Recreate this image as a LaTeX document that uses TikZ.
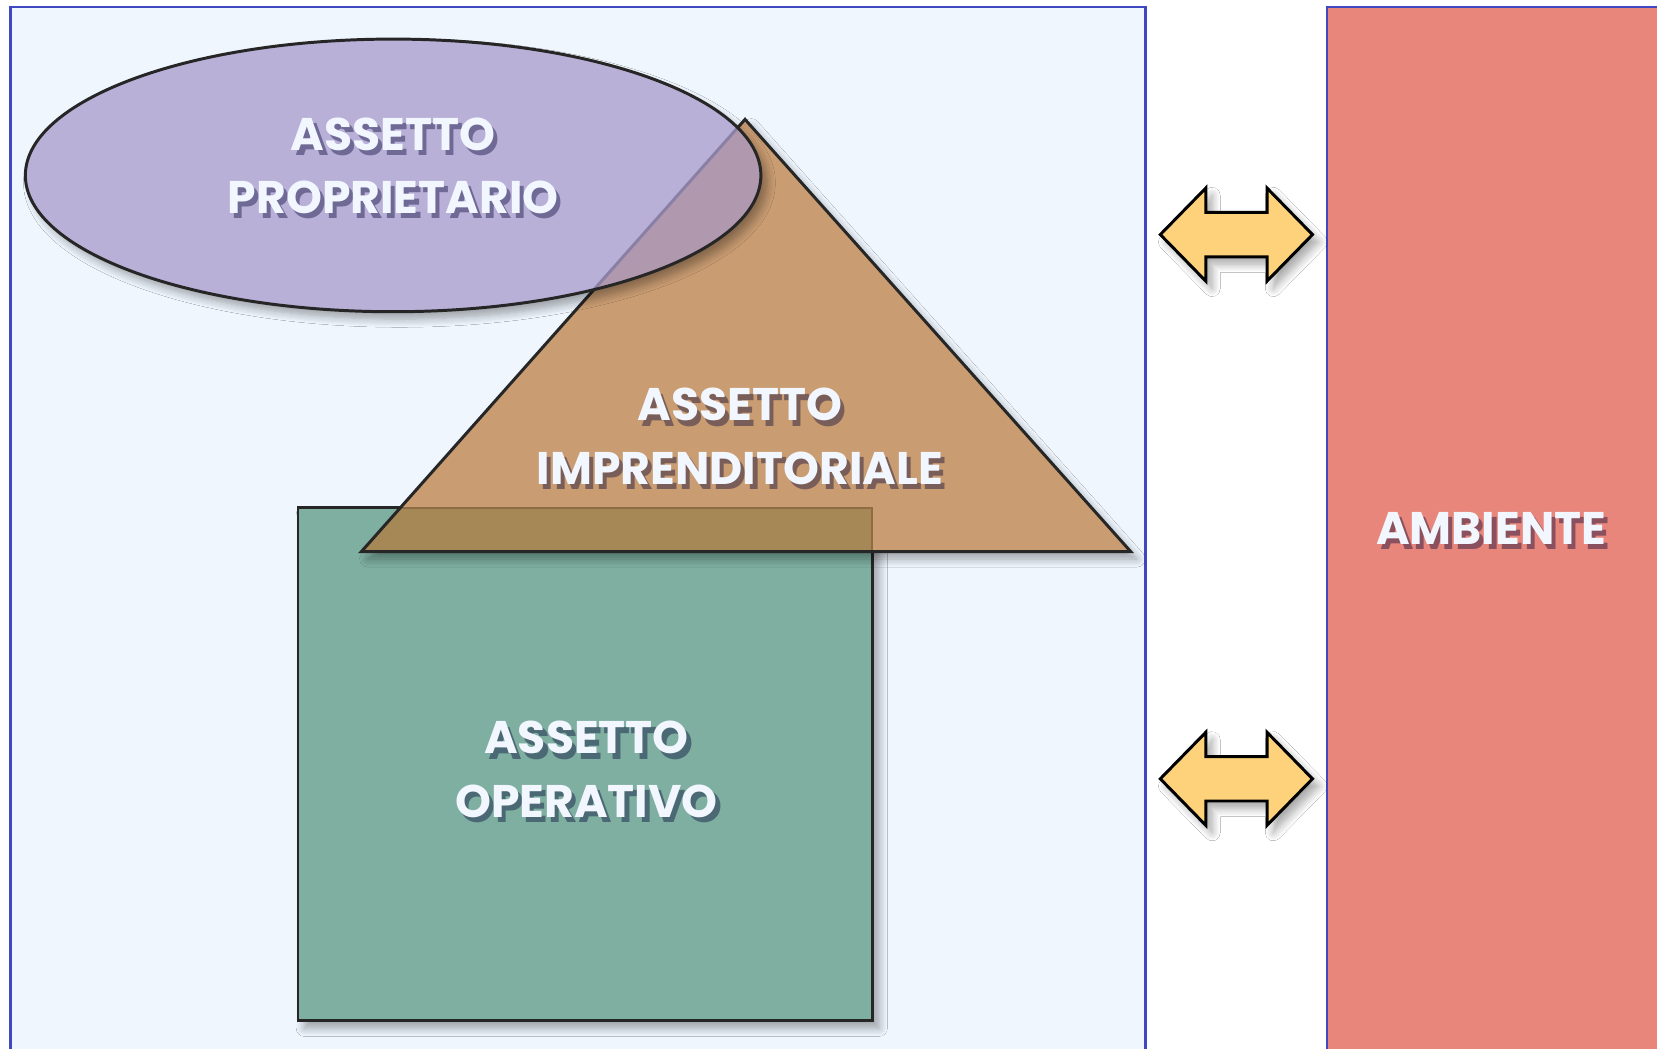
\documentclass[tikz,border=0pt]{standalone}
\usepackage{fontspec}
\setmainfont{Poppins}
\usetikzlibrary{shadows.blur}
\definecolor{bgblue}{HTML}{EFF6FE}
\definecolor{frameblue}{HTML}{3F48C0}
\definecolor{salmon}{HTML}{E8867C}
\definecolor{lav}{HTML}{B9B0D8}
\definecolor{tan}{HTML}{C99C72}
\definecolor{teal}{HTML}{7EAFA0}
\definecolor{tanteal}{HTML}{A68856}
\definecolor{lavtan}{HTML}{B098AE}
\definecolor{faintbrown}{HTML}{8E6C44}
\definecolor{faintlav}{HTML}{8A80A6}
\definecolor{arrowyellow}{HTML}{FDD27A}
\definecolor{txtwhite}{HTML}{F2F6FE}
\tikzset{
  framebox/.style={draw=frameblue, line width=0.6pt},
  shapebox/.style={draw=black!85, line width=0.8pt},
  sh/.style={blur shadow={shadow xshift=0.06cm, shadow yshift=-0.07cm, shadow blur steps=8, shadow opacity=35}},
  lbltxt/.style={text=txtwhite, align=center, font=\bfseries\fontsize{12.3}{17}\selectfont, inner sep=0pt},
  lblsh/.style={text=black!80!blue, text opacity=0.4, align=center, font=\bfseries\fontsize{12.3}{17}\selectfont, inner sep=0pt},
  dblarrow/.style={draw=black, line width=0.8pt, fill=arrowyellow, line join=miter, sh}
}
\newcommand{\shlabel}[3]{%
  \node[lblsh, xshift=0.04cm, yshift=-0.05cm] (#1-sh) at (#2) {#3};
  \node[lbltxt] (#1) at (#2) {#3};}
\begin{document}
\begin{tikzpicture}[x=0.01cm,y=-0.01cm]
\useasboundingbox (0,0) rectangle (1568,992);
% containers
\fill[white] (0,0) rectangle (1568,992);
\draw[framebox, fill=bgblue] (10,7) rectangle (1084,1010);
\draw[framebox, fill=salmon] (1256,7) rectangle (1590,1010);
% operativo rectangle
\draw[shapebox, fill=teal, sh] (282,480) rectangle (826,966);
% imprenditoriale triangle
\path[fill=tan, sh] (705,113) -- (1070,522) -- (342,522) -- cycle;
\begin{scope}
  \clip (282,480) rectangle (826,966);
  \fill[tanteal] (705,113) -- (1070,522) -- (342,522) -- cycle;
  \clip (705,113) -- (1070,522) -- (342,522) -- cycle;
  \draw[faintbrown, line width=0.8pt] (282,480) rectangle (826,966);
\end{scope}
\draw[shapebox] (705,113) -- (1070,522) -- (342,522) -- cycle;
% proprietario ellipse
\path[fill=lav, sh] (372,166) ellipse [x radius=348, y radius=129];
\begin{scope}
  \clip (372,166) ellipse [x radius=348, y radius=129];
  \fill[lavtan] (705,113) -- (1070,522) -- (342,522) -- cycle;
  \draw[faintlav, line width=0.8pt] (705,113) -- (1070,522) -- (342,522) -- cycle;
\end{scope}
\draw[shapebox] (372,166) ellipse [x radius=348, y radius=129];
% arrows
\foreach \yy/\nm in {222/arrA, 737/arrB}{
  \draw[dblarrow] (1098,\yy) -- (1141,\yy-44) -- (1141,\yy-21) -- (1199,\yy-21) -- (1199,\yy-44)
    -- (1242,\yy) -- (1199,\yy+44) -- (1199,\yy+21) -- (1141,\yy+21) -- (1141,\yy+44) -- cycle;
}
% labels
\shlabel{lprop}{372,157}{ASSETTO\\PROPRIETARIO}
\shlabel{limpr}{700,413}{ASSETTO\\IMPRENDITORIALE}
\shlabel{loper}{555,728}{ASSETTO\\OPERATIVO}
\shlabel{lamb}{1411,500}{AMBIENTE}
\end{tikzpicture}
\end{document}
